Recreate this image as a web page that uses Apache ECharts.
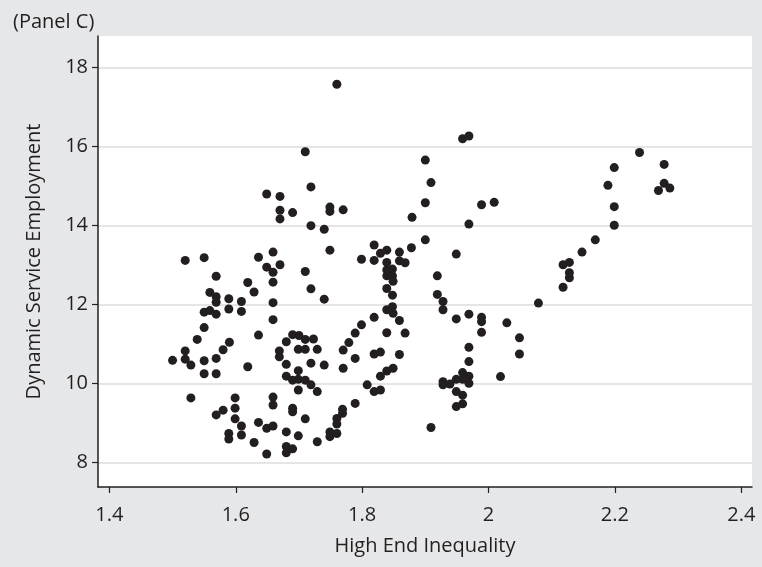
<!DOCTYPE html>
<html>
<head>
<meta charset="utf-8">
<script src="https://cdn.jsdelivr.net/npm/echarts@6/dist/echarts.min.js"></script>
<style>
html,body{margin:0;padding:0;background:#e6e7e8;}
#chart{width:762px;height:567px;}
</style>
</head>
<body>
<div id="chart"></div>
<script>
const xTicks = [1.4, 1.6, 1.8, 2, 2.2, 2.4];
const yTicks = [8, 10, 12, 14, 16, 18];

const highEndInequality = [
  1.52,1.55,1.569,1.636,1.619,1.629,1.559,1.569,1.569,1.589,1.609,1.55,1.559,1.569,1.589,1.609,1.55,1.539,1.52,1.50,
  1.52,1.529,1.55,1.569,1.58,1.59,1.55,1.569,1.619,1.636,1.529,1.599,1.569,1.58,1.599,1.599,1.609,1.609,1.589,1.589,
  1.629,1.636,1.649,1.67,1.719,1.67,1.67,1.69,1.749,1.749,1.77,1.719,1.74,1.749,1.659,1.649,1.67,1.659,1.659,1.71,
  1.719,1.74,1.659,1.659,1.799,1.819,1.819,1.829,1.839,1.859,1.878,1.839,1.859,1.868,1.839,1.848,1.839,1.848,1.849,1.839,
  1.848,1.819,1.799,1.839,1.848,1.849,1.859,1.868,1.76,1.71,1.69,1.70,1.71,1.723,1.68,1.669,1.669,1.699,1.71,1.729,
  1.68,1.719,1.74,1.699,1.68,1.69,1.699,1.71,1.719,1.699,1.729,1.659,1.659,1.69,1.69,1.71,1.649,1.659,1.68,1.699,
  1.649,1.68,1.68,1.69,1.729,1.77,1.77,1.779,1.789,1.789,1.769,1.769,1.76,1.76,1.749,1.749,1.76,1.789,1.808,1.819,
  1.829,1.829,1.839,1.849,1.819,1.829,1.859,1.839,1.959,1.969,1.9,1.909,1.9,1.879,1.989,2.009,1.969,1.9,1.949,1.919,
  1.919,1.928,1.928,1.949,1.969,1.989,1.989,1.989,2.029,2.049,2.049,2.019,2.079,1.969,1.969,1.959,1.969,1.928,1.928,1.939,
  1.949,1.959,1.969,1.949,1.959,1.959,1.949,1.909,2.239,2.278,2.199,2.189,2.278,2.287,2.269,2.199,2.199,2.169,2.148,2.118,
  2.128,2.128,2.128,2.118
];

const dynamicServiceEmployment = [
  13.12,13.19,12.72,13.2,12.56,12.32,12.31,12.2,12.06,12.15,12.08,11.81,11.85,11.76,11.89,11.83,11.42,11.12,10.83,10.59,
  10.62,10.47,10.58,10.64,10.86,11.05,10.25,10.25,10.43,11.23,9.64,9.64,9.21,9.33,9.38,9.11,8.93,8.70,8.74,8.60,
  8.51,9.02,14.80,14.74,14.98,14.39,14.17,14.33,14.47,14.36,14.40,14.0,13.91,13.38,13.33,12.95,13.01,12.82,12.57,12.84,
  12.40,12.14,12.05,11.62,13.15,13.51,13.12,13.30,13.38,13.33,13.44,13.07,13.11,13.06,12.88,12.9,12.73,12.73,12.59,12.41,
  12.24,11.68,11.49,11.87,11.95,11.78,11.6,11.28,17.58,15.87,11.24,11.22,11.12,11.13,11.06,10.83,10.68,10.87,10.87,10.87,
  10.49,10.52,10.47,10.33,10.19,10.09,10.11,10.09,9.97,9.84,9.80,9.66,9.46,9.38,9.29,9.11,8.87,8.93,8.78,8.68,
  8.22,8.41,8.25,8.35,8.53,10.85,10.39,11.04,11.28,10.64,9.35,9.25,9.12,8.98,8.78,8.66,8.74,9.50,9.97,9.80,
  9.84,10.19,10.32,10.39,10.75,10.80,10.74,11.29,16.2,16.27,15.66,15.09,14.58,14.21,14.53,14.59,14.04,13.64,13.28,12.73,
  12.26,12.08,11.87,11.64,11.76,11.68,11.57,11.30,11.54,11.16,10.75,10.18,12.04,10.92,10.56,10.28,10.19,10.05,9.97,9.99,
  10.11,10.11,10.01,9.80,9.71,9.49,9.42,8.89,15.85,15.55,15.47,15.02,15.07,14.95,14.89,14.48,14.01,13.64,13.33,13.01,
  13.07,12.81,12.68,12.44
];

const points = highEndInequality.map((x, i) => [x, dynamicServiceEmployment[i]]);

const font = 'Open Sans';
const ink = '#231f20';

const chart = echarts.init(document.getElementById('chart'), null, {renderer: 'canvas'});
chart.setOption({
  backgroundColor: '#e6e7e8',
  animation: false,
  title: {
    text: '(Panel C)',
    left: 8, top: 7,
    textStyle: {fontFamily: font, fontSize: 20, fontWeight: 'normal', color: ink}
  },
  grid: {
    left: 98, right: 10, top: 36, bottom: 80,
    show: true, backgroundColor: '#ffffff', borderWidth: 0
  },
  xAxis: {
    type: 'value',
    min: 1.382, max: 2.417,
    name: 'High End Inequality',
    nameLocation: 'middle',
    nameGap: 49,
    nameTextStyle: {fontFamily: font, fontSize: 20, color: ink},
    axisLine: {show: true, onZero: false, lineStyle: {color: ink, width: 1.5}},
    axisTick: {show: true, length: 6, lineStyle: {color: ink, width: 1.2}, customValues: xTicks},
    axisLabel: {fontFamily: font, fontSize: 20, color: ink, margin: 18, customValues: xTicks},
    splitLine: {show: false}
  },
  yAxis: {
    type: 'value',
    min: 7.385, max: 18.8,
    name: 'Dynamic Service Employment',
    nameLocation: 'middle',
    nameGap: 54,
    nameTextStyle: {fontFamily: font, fontSize: 20, color: ink},
    axisLine: {show: true, onZero: false, lineStyle: {color: ink, width: 1.5}},
    axisTick: {show: true, length: 6, lineStyle: {color: ink, width: 1.2}, customValues: yTicks},
    axisLabel: {fontFamily: font, fontSize: 20, color: ink, margin: 10, customValues: yTicks},
    splitLine: {show: true, lineStyle: {color: '#dcdcdc', width: 1.5}}
  },
  series: [{
    type: 'scatter',
    data: points,
    symbol: 'circle',
    symbolSize: 9,
    itemStyle: {color: ink, opacity: 1},
    silent: true
  }]
});
</script>
</body>
</html>
